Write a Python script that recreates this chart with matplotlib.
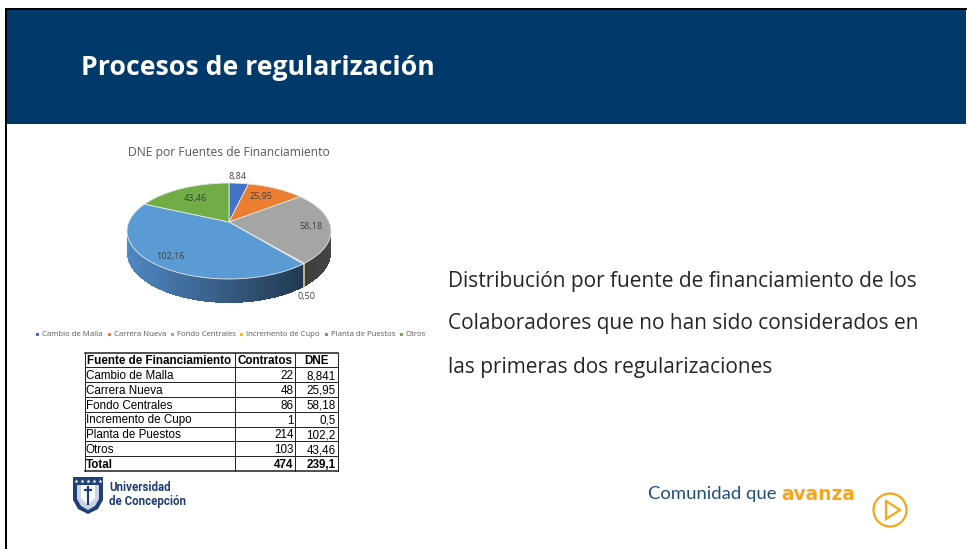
import numpy as np
import matplotlib
matplotlib.use('Agg')
import matplotlib.pyplot as plt
from matplotlib.patches import Circle, Polygon, Rectangle
from matplotlib.transforms import Transform

W, H = 967, 549
NAVY = '#02396b'
ORANGE = '#f9a51a'
AZUL_UDEC = '#1f3f77'

# pie data
fuentes = ['Cambio de Malla', 'Carrera Nueva', 'Fondo Centrales',
           'Incremento de Cupo', 'Planta de Puestos', 'Otros']
dne = [8.84, 25.95, 58.18, 0.50, 102.16, 43.46]
dne_labels = ['8,84', '25,95', '58,18', '0,50', '102,16', '43,46']
colores = ['#4472c4', '#ed7d31', '#a5a5a5', '#ffc000', '#5b9bd5', '#70ad47']

# table data
tabla_header = ['Fuente de Financiamiento', 'Contratos', 'DNE']
tabla_contratos = ['22', '48', '86', '1', '214', '103']
tabla_dne = ['8,841', '25,95', '58,18', '0,5', '102,2', '43,46']
tabla_total = ['Total', '474', '239,1']

texto = ['Distribución por fuente de financiamiento de los',
         'Colaboradores que no han sido considerados en',
         'las primeras dos regularizaciones']


class Perspectiva(Transform):
    """Tilted disc: unit circle to pixel coords, far side is squeezed."""
    input_dims = 2
    output_dims = 2

    def transform_non_affine(self, xy):
        xy = np.asarray(xy, dtype=float)
        w = 1 + 0.1875 * xy[:, 1]
        return np.column_stack([229 + 100.2 * xy[:, 0] / w,
                                222 - 46.3 * xy[:, 1] / w])


fig = plt.figure(figsize=(W / 100, H / 100), dpi=100)
ax = fig.add_axes([0, 0, 1, 1])

wedges, _ = ax.pie(dne, startangle=90, counterclock=False, colors=colores,
                   wedgeprops={'edgecolor': '#e8e8e8', 'linewidth': 0.6})
persp = Perspectiva()
for w in wedges:
    w.set_transform(persp + ax.transData)
    w.set_zorder(5)

ax.set_aspect('auto')
ax.set_xlim(0, W)
ax.set_ylim(H, 0)
ax.axis('off')

# slide frame and header
ax.add_patch(Rectangle((7, 10), W - 8, 114, color=NAVY, zorder=1, lw=0))
ax.plot([6, 6, W], [H, 9, 9], color='black', lw=1.44, zorder=2, solid_joinstyle='miter')
ax.text(81, 68, 'Procesos de regularización', color='white', fontsize=19.15,
        fontweight='bold', family='Open Sans', va='center', ha='left')

# pie wall, drawn in strips under the top face
frac = np.cumsum(dne) / sum(dne)
ang = 2 * np.pi * frac[2]
w0 = 1 + 0.1875 * np.cos(ang)
x_corte = 229 + 100.2 * np.sin(ang) / w0
xs = np.arange(127.0, 331.0, 1.0)
for x in xs:
    xm = x + 0.5
    y1 = 231 + 48 * np.sqrt(max(0, 1 - ((xm - 229) / 102) ** 2))
    y2 = 253 + 50 * np.sqrt(max(0, 1 - ((xm - 229) / 102) ** 2))
    if x < x_corte:
        m = (x - 127) / (x_corte - 127)
        c = np.array([0.31, 0.53, 0.76]) * (1 - m) + np.array([0.13, 0.22, 0.31]) * m
    else:
        m = (x - x_corte) / (331 - x_corte)
        c = np.array([0.24, 0.24, 0.24]) * (1 - m) + np.array([0.27, 0.27, 0.27]) * m
    ax.fill_between([x, x + 1.2], y1 - 6, y2, color=c, lw=0, zorder=3)
ax.plot([x_corte, x_corte], [263, 286], color='#d8cfa0', lw=1.2, zorder=4)

ax.text(229, 152.5, 'DNE por Fuentes de Financiamiento', fontsize=8.7, color='#595959',
        family='Open Sans', ha='center', va='center')
pos_etiquetas = [(238, 176), (261, 197), (311, 227), (307, 296), (170, 256), (195, 198)]
for s, (px, py) in zip(dne_labels, pos_etiquetas):
    ax.text(px, py, s, fontsize=6.5, color='#404040', family='Open Sans',
            ha='center', va='center', zorder=6)

# legend
leg_x = [42, 114, 177, 246, 331, 406]
for s, c, lx in zip(fuentes, colores, leg_x):
    ax.add_patch(Rectangle((lx - 6.5, 332.5), 3, 3, color=c, lw=0))
    ax.text(lx, 334, s, fontsize=5.6, color='#595959', family='Open Sans', va='center')

# table
col_x = [84.5, 235, 295, 337.5]
fila_y = [352.5 + 14.8 * i for i in range(9)]
for i, y in enumerate(fila_y):
    ax.plot([col_x[0], col_x[-1]], [y, y], color='#202020', lw=0.7 if 0 < i < 8 else 1.1, zorder=2)
for x in col_x:
    ax.plot([x, x], [fila_y[0], fila_y[-1]], color='#202020', lw=0.7, zorder=2)
ax.text(87, fila_y[0] + 8.5, tabla_header[0], fontsize=8.4, fontweight='bold',
        family='Liberation Sans', va='center')
ax.text(265, fila_y[0] + 8.5, tabla_header[1], fontsize=8.4, fontweight='bold',
        family='Liberation Sans', va='center', ha='center')
ax.text(316.5, fila_y[0] + 8.5, tabla_header[2], fontsize=8.4, fontweight='bold',
        family='Liberation Sans', va='center', ha='center')
filas = list(zip(fuentes, tabla_contratos, tabla_dne)) + [tuple(tabla_total)]
for i, fila in enumerate(filas):
    y = fila_y[i + 1] + 8.8
    peso = 'bold' if i == len(filas) - 1 else 'normal'
    ax.text(86, y, fila[0], fontsize=8.4, fontweight=peso, family='Liberation Sans', va='center')
    ax.text(293.5, y, fila[1], fontsize=8.4, fontweight=peso, family='Liberation Sans',
            va='center', ha='right')
    ax.text(335.5, y, fila[2], fontsize=8.4, fontweight=peso, family='Liberation Sans',
            va='center', ha='right')

# right hand text
for s, y in zip(texto, [281, 324, 367]):
    ax.text(448, y, s, fontsize=15, color='#262626', family='Open Sans', va='center')

# crest + university name
ax.add_patch(Polygon([(73, 477), (103, 477), (103, 500), (98, 509), (88, 514),
                      (78, 509), (73, 500)], closed=True, fc=AZUL_UDEC, ec='none'))
ax.add_patch(Polygon([(77, 485), (99, 485), (99, 499), (95, 506), (88, 510),
                      (81, 506), (77, 499)], closed=True, fc='#c9d3e4', ec='none'))
ax.add_patch(Polygon([(81, 485), (95, 485), (95, 498), (88, 505), (81, 498)],
                     closed=True, fc='white', ec='none'))
ax.plot([88, 88], [487, 504], color=AZUL_UDEC, lw=1.6)
ax.plot([85, 91], [490, 490], color=AZUL_UDEC, lw=1.6)
ax.plot([76, 82, 88, 94, 100], [481] * 5, ls='none', marker='*', ms=3.2, color='white', mew=0)
ax.text(109, 487.5, 'Universidad', fontsize=8.3, fontweight='bold', color=AZUL_UDEC,
        family='Roboto', va='center')
ax.text(109, 502, 'de Concepción', fontsize=8.3, fontweight='bold', color=AZUL_UDEC,
        family='Roboto', va='center')

# slogan
ax.text(648, 494, 'Comunidad que', fontsize=13.3, color='#1f4e79', family='Lato', va='center')
ax.text(781, 494, 'avanza', fontsize=13.4, color=ORANGE, fontweight='bold',
        family='DejaVu Sans', va='center')
ax.add_patch(Circle((890, 510), 16.5, fc='none', ec=ORANGE, lw=1.6))
ax.add_patch(Polygon([(886, 501), (886, 519), (900, 510)], closed=True, fc='none', ec=ORANGE, lw=1.6))

fig.savefig('out.png', dpi=100)
